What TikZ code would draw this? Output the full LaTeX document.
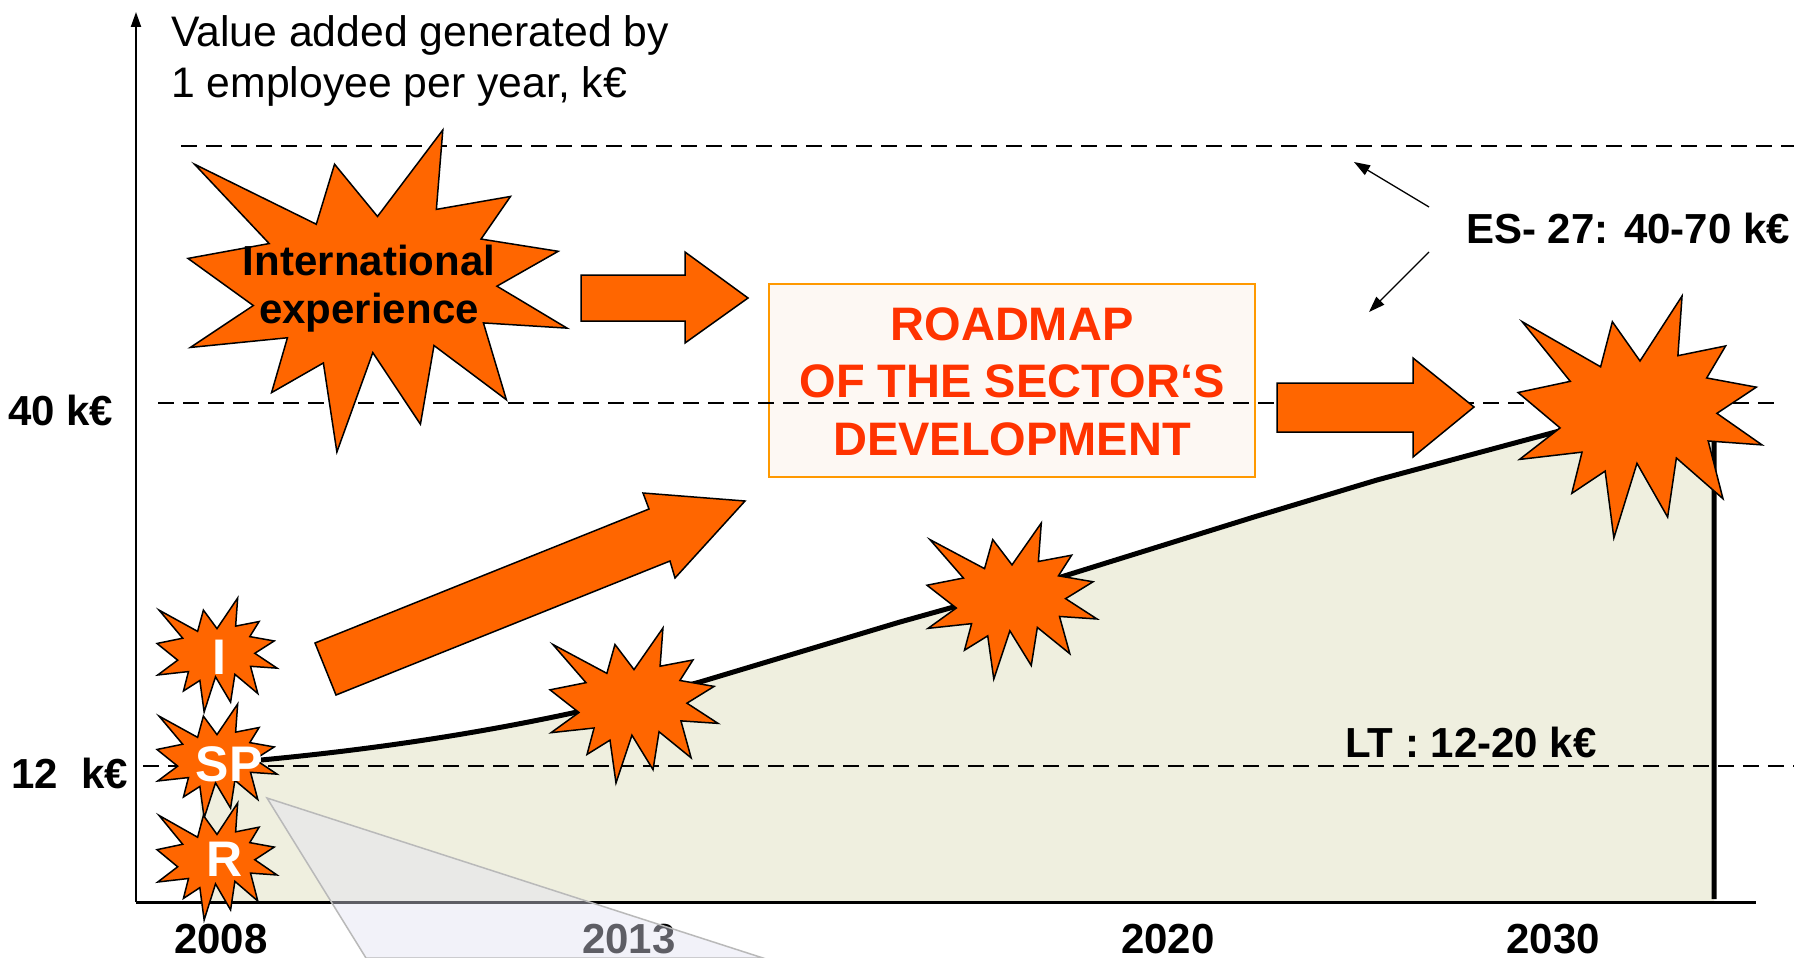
\documentclass[tikz,border=0pt]{standalone}
\usepackage{fontspec}
\setmainfont{Liberation Sans}
\usetikzlibrary{arrows.meta}
\definecolor{burstorange}{HTML}{FF6600}
\definecolor{roadred}{HTML}{FF3300}
\definecolor{boxborder}{HTML}{FF9900}
\definecolor{boxfill}{HTML}{FDF8F3}
\definecolor{areafill}{HTML}{EFEFDF}
\definecolor{wedgefill}{RGB}{226,226,243}
\definecolor{wedgeline}{RGB}{185,185,185}
\newcommand\sealburst[4]{%
  \path[sealshape, shift={(#1,#2)}, xscale=#3/216, yscale=#4/216]
  (108,58) -- (145.22,0) -- (141.55,53.25) -- (183.8,44.57) -- (167.02,73.15)
  -- (210.97,81.37) -- (176.07,104.75) -- (216,132.9) -- (168.37,129.42)
  -- (181.45,180.95) -- (140.2,144.57) -- (132.47,197.37) -- (105.32,149.35)
  -- (84.85,216) -- (77.15,156.27) -- (47.62,176.17) -- (56.67,139.37)
  -- (1.35,145.87) -- (37.22,117.75) -- (0,86.15) -- (46.27,76.17)
  -- (3.7,22.95) -- (73.12,63.2) -- (83.52,22.95) -- cycle;}
\tikzset{
  sealshape/.style={fill=burstorange, draw=black, line width=1.5pt, line join=miter},
  blockarrow/.style={fill=burstorange, draw=black, line width=1.5pt, line join=miter},
  guide/.style={draw=black, line width=1.6pt, dash pattern=on 16pt off 9pt},
  curveline/.style={draw=black, line width=5pt, line join=round},
  axisline/.style={draw=black, line width=2pt},
  lbl/.style={font=\fontsize{42}{48}\selectfont\bfseries, inner sep=0pt, text=black},
  titletxt/.style={font=\fontsize{42.7}{50}\selectfont, inner sep=0pt, anchor=base west},
  road/.style={font=\fontsize{47}{56}\selectfont\bfseries, inner sep=0pt, text=roadred, anchor=base},
  startxt/.style={font=\fontsize{50}{56}\selectfont\bfseries, inner sep=0pt, text=white},
  thinarrow/.style={draw=black, line width=1.3pt, -{Triangle[length=16pt,width=11pt]}},
}
\begin{document}
\begin{tikzpicture}[x=1pt, y=-1pt]
\useasboundingbox (0,0) rectangle (1794,958);
\fill[white] (0,0) rectangle (1794,958);
% area under the curve
\fill[areafill] (200,902) -- (200,762) -- (261,760) .. controls (420,745) and (560,720) .. (700,682)
  -- (900,622) -- (1061,577) -- (1254,517) -- (1377,480) -- (1563,430) -- (1714,392)
  -- (1714,902) -- cycle;
% roadmap box
\node[draw=boxborder, fill=boxfill, line width=2pt, minimum width=486pt, minimum height=193pt, inner sep=0pt] (roadbox) at (1012,380.5) {};
% guide lines
\coordinate (g70a) at (181,146); \coordinate (g70b) at (1794,146);
\coordinate (g40a) at (158,403); \coordinate (g40b) at (1777,403);
\coordinate (g12a) at (143,766); \coordinate (g12b) at (1794,766);
\draw[guide] (g70a) -- (g70b);
\draw[guide] (g40a) -- (g40b);
\draw[guide] (g12a) -- (g12b);
% curve
\draw[curveline] (261,760) .. controls (420,745) and (560,720) .. (700,682)
  -- (900,622) -- (1061,577) -- (1254,517) -- (1377,480) -- (1563,430) -- (1714,392) -- (1714,899);
% axes
\coordinate (origin) at (136,902);
\coordinate (ytop) at (136,12);
\coordinate (xend) at (1756,902);
\draw[axisline, -{Triangle[length=15pt,width=10pt]}] (origin) -- (ytop);
\draw[draw=black, line width=3pt] (origin) -- (xend);
% labels
\node[titletxt] (title1) at (171,47) {Value added generated by};
\node[titletxt] (title2) at (171,98) {1 employee per year, k€};
\node[lbl, anchor=base west] (l40) at (8,425) {40 k€};
\node[lbl, anchor=base west] (l12) at (11,788) {12\ \ k€};
\node[lbl, anchor=base] (y2008) at (221,953) {2008};
\node[lbl, anchor=base] (y2013) at (629,953) {2013};
\node[lbl, anchor=base] (y2020) at (1168,953) {2020};
\node[lbl, anchor=base] (y2030) at (1553,953) {2030};
\node[lbl, anchor=base west] (es) at (1466,243) {ES- 27: 40-70 k€};
\node[lbl, anchor=base west] (lt) at (1345,757) {LT : 12-20 k€};
% ES arrows
\coordinate (es1s) at (1429,207); \coordinate (es1e) at (1354,162);
\coordinate (es2s) at (1429,252); \coordinate (es2e) at (1369,312);
\draw[thinarrow] (es1s) -- (es1e);
\draw[thinarrow] (es2s) -- (es2e);
% wedge
\path[fill=wedgefill, fill opacity=0.42, draw=wedgeline, line width=1.5pt] (267,798) -- (366,958) -- (763,958) -- cycle;
% bursts
\sealburst{188}{130}{379}{322}
\sealburst{550}{628}{168}{155}
\sealburst{927}{523}{170}{156}
\sealburst{1518}{296}{244}{242}
\sealburst{157}{598}{120}{114}
\sealburst{157}{704}{120}{114}
\sealburst{157}{803}{120}{117}
\node[startxt] (sI) at (219,657) {I};
\node[startxt] (sSP) at (229,764) {SP};
\node[startxt] (sR) at (225,859) {R};
\node[lbl, anchor=base] (intl1) at (369,275) {International};
\node[lbl, anchor=base] (intl2) at (369,323) {experience};
% block arrows
\path[blockarrow] (581,275) -- (685,275) -- (685,252) -- (748,298) -- (685,343) -- (685,321) -- (581,321) -- cycle;
\path[blockarrow] (1277,383) -- (1413,383) -- (1413,358) -- (1474,407) -- (1413,457) -- (1413,432) -- (1277,432) -- cycle;
\path[blockarrow] (315,643) -- (649,509) -- (643,493) -- (745,501) -- (675,578) -- (670,561) -- (336,695) -- cycle;
% roadmap text
\node[road] (rm1) at (1012,340) {ROADMAP};
\node[road] (rm2) at (1012,397) {OF THE SECTOR‘S};
\node[road] (rm3) at (1012,455) {DEVELOPMENT};
\end{tikzpicture}
\end{document}
